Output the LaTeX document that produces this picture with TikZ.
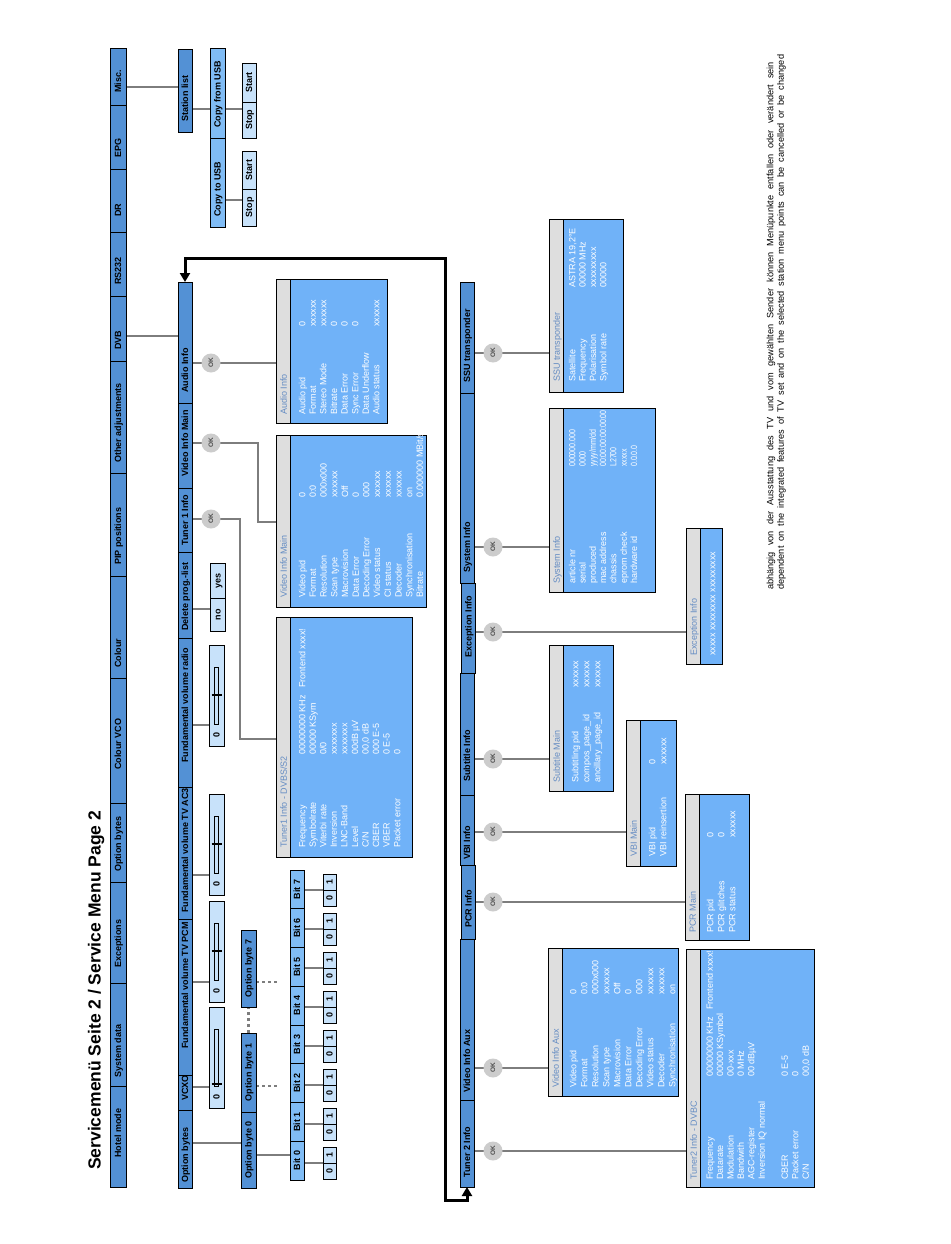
\documentclass[tikz,border=0pt]{standalone}
\usepackage{fontspec}
\setmainfont{Liberation Sans}
\usepackage{graphicx}
\usetikzlibrary{arrows.meta,backgrounds}
\definecolor{barblue}{RGB}{83,145,213}
\definecolor{midblue}{RGB}{128,188,245}
\definecolor{paleblue}{RGB}{200,226,250}
\definecolor{infoblue}{RGB}{112,178,248}
\definecolor{hdrgrey}{RGB}{222,222,222}
\definecolor{hdrtext}{RGB}{100,140,195}
\definecolor{conngrey}{RGB}{125,125,125}
\definecolor{okgrey}{RGB}{204,204,204}

\newcommand\cnd[1]{\scalebox{0.78}[1]{#1}}
\newcommand\bx[6]{%
  \pgfmathsetmacro\bxw{(#5)-(#3)}\pgfmathsetmacro\bxh{(#6)-(#4)}%
  \node[#1, minimum width=\bxw pt, minimum height=\bxh pt] (#2) at ({((#3)+(#5))/2},{((#4)+(#6))/2}) {};}
\newcommand\segL[8]{\bx{#1}{#2}{#3}{#4}{#5}{#6}%
  \node[segtxt, anchor=west] (#2-t) at ({((#3)+(#5))/2},#8) {#7};}
\newcommand\segC[7]{\bx{#1}{#2}{#3}{#4}{#5}{#6}%
  \node[segtxt] (#2-t) at (#2.center) {#7};}
\newcommand\infobox[7]{%
  \bx{info}{#1}{#2}{#3}{#4}{#5}%
  \bx{hdr}{#1-h}{#2}{#3}{(#2)+14}{#5}%
  \node[hdrtxt, anchor=west] (#1-ht) at ({(#2)+7.5},#7) {#6};}
\newcommand\inforows[4]{%
  \foreach [count=\i] \xx/\lbl/\vvl in {#4}{%
    \node[inftxt, anchor=west] (#1-l\i) at (\xx,#2) {\lbl};
    \node[inftxt, anchor=west] (#1-v\i) at (\xx,#3) {\vvl};}}
\newcommand\infline[4]{\node[inftxt, anchor=west] (#1) at (#2,#3) {#4};}
\newcommand\slider[3]{%
  \pgfmathsetmacro\slb{(#2)+101}%
  \bx{pale}{#1}{209}{#2}{224}{\slb}%
  \pgfmathsetmacro\slz{\slb-11}\pgfmathsetmacro\sltb{\slb-22}\pgfmathsetmacro\sltt{\slb-79}%
  \node[segtxt] (#1-t) at (216.5,\slz) {0};
  \draw[line width=0.9pt] (214.5,\sltt) rectangle (218.5,\sltb);
  \draw[line width=1.1pt] (211.5,#3) -- (221.5,#3);}

\tikzset{
 box/.style={draw=black, line width=0.9pt, inner sep=0pt, outer sep=0pt},
 seg/.style={box, fill=barblue},
 midb/.style={box, fill=midblue},
 pale/.style={box, fill=paleblue},
 info/.style={box, fill=infoblue},
 hdr/.style={box, fill=hdrgrey},
 segtxt/.style={rotate=90, inner sep=0pt, font=\bfseries\fontsize{9}{10}\selectfont, text height=6.4pt, text depth=0pt},
 inftxt/.style={rotate=90, inner sep=0pt, text=white, font=\fontsize{9}{10}\selectfont, text height=6.5pt, text depth=0pt},
 hdrtxt/.style={rotate=90, inner sep=0pt, text=hdrtext, font=\fontsize{9}{10}\selectfont, text height=6.5pt, text depth=0pt},
 notetxt/.style={rotate=90, inner sep=0pt, text=black, font=\fontsize{9.2}{10}\selectfont, text height=6.6pt, text depth=0pt},
 titletxt/.style={rotate=90, inner sep=0pt, font=\bfseries\fontsize{17.5}{20}\selectfont},
 okc/.style={circle, fill=okgrey, inner sep=0pt, minimum size=19pt, rotate=90, text=black!70, font=\bfseries\fontsize{6.5}{7}\selectfont},
 conn/.style={draw=conngrey, line width=2.6pt},
 dotline/.style={draw=conngrey, line width=2.6pt, dash pattern=on 2.6pt off 3.4pt},
 blk/.style={draw=black, line width=3pt},
}

\begin{document}
\begin{tikzpicture}[x=1pt,y=-1pt]
\useasboundingbox (0,0) rectangle (950,1244);

% title
\node[titletxt, anchor=base west] (title) at (100.5,1170) {Servicemenü Seite 2 / Service Menu Page 2};

% row 1
\segL{seg}{misc}{110}{48}{126}{105}{Misc.}{93}
\segL{seg}{epg}{110}{105}{126}{169}{EPG}{158}
\segL{seg}{dr}{110}{169}{126}{232}{DR}{217}
\segL{seg}{rs}{110}{232}{126}{296}{RS232}{285}
\segL{seg}{dvb}{110}{296}{126}{361}{DVB}{350}
\segL{seg}{oadj}{110}{361}{126}{473}{Other adjustments}{463}
\segL{seg}{pip}{110}{473}{126}{576}{PIP positions}{565}
\segL{seg}{colour}{110}{576}{126}{678}{Colour}{668}
\segL{seg}{cvco}{110}{678}{126}{803}{Colour VCO}{770}
\segL{seg}{obytes}{110}{803}{126}{882}{Option bytes}{872}
\segL{seg}{exc}{110}{882}{126}{983}{Exceptions}{968}
\segL{seg}{sysd}{110}{983}{126}{1086}{System data}{1078}
\segL{seg}{hotel}{110}{1086}{126}{1187}{Hotel mode}{1158}

% row 2
\segL{seg}{audio}{178}{282}{192}{403}{Audio Info}{393}
\segL{seg}{vim}{178}{403}{192}{488}{Video Info Main}{477}
\segL{seg}{tun1}{178}{488}{192}{552}{Tuner 1 Info}{546}
\segL{seg}{delp}{178}{552}{192}{638}{Delete prog.-list}{631}
\segL{seg}{fvr}{178}{638}{192}{787}{Fundamental volume radio}{763}
\segL{seg}{fvac}{178}{787}{192}{919}{Fundamental volume TV AC3}{913}
\segL{seg}{fvpcm}{178}{919}{192}{1075}{Fundamental volume TV PCM}{1049}
\segL{seg}{vcxo}{178}{1075}{192}{1110}{VCXO}{1101}
\segL{seg}{optb}{178}{1110}{192}{1188}{Option bytes}{1183}

% station list / USB
\segL{seg}{stl}{178}{49}{192}{132}{Station list}{122}
\segL{midb}{cfu}{210}{48}{225}{138}{Copy from USB}{128}
\segL{midb}{ctu}{210}{138}{225}{227}{Copy to USB}{217}
\segC{pale}{startA}{242}{63}{256}{102}{Start}
\segC{pale}{stopA}{242}{102}{256}{138}{Stop}
\segC{pale}{startB}{242}{151}{256}{189}{Start}
\segC{pale}{stopB}{242}{189}{256}{226}{Stop}

% delete prog list
\segC{pale}{yes}{210}{563}{225}{598}{yes}
\segC{pale}{no}{210}{598}{225}{631}{no}

% sliders
\slider{slr}{645}{695}
\slider{slac}{794}{844}
\slider{slpcm}{901}{951}
\slider{slvcxo}{1007}{1084}

% option bytes
\segC{seg}{ob0}{241}{1112}{256}{1188}{Option byte 0}
\segC{seg}{ob1}{241}{1033}{256}{1112}{Option byte 1}
\segC{seg}{ob7}{241}{930}{256}{1007}{Option byte 7}
\coordinate (d1) at (277,1086);
\coordinate (d7) at (277,982);

\foreach \k in {0,...,7}{
  \pgfmathsetmacro\bitb{1180-38.75*\k}
  \pgfmathsetmacro\bitt{\bitb-38.75}
  \segC{midb}{bit\k}{290}{\bitt}{304}{\bitb}{Bit \k}
  \pgfmathsetmacro\pbot{1179-39*\k}
  \pgfmathsetmacro\pmid{\pbot-16}
  \pgfmathsetmacro\ptop{\pbot-32}
  \segC{pale}{p\k-0}{323}{\pmid}{336}{\pbot}{0}
  \segC{pale}{p\k-1}{323}{\ptop}{336}{\pmid}{1}
}

% row 3
\segL{seg}{ssu}{460}{282}{474}{393}{SSU transponder}{383}
\segL{seg}{sysi}{460}{393}{474}{583}{System Info}{573}
\segL{seg}{subi}{460}{673}{474}{795}{Subtitle Info}{782}
\segL{seg}{vbii}{460}{795}{474}{865}{VBI Info}{860}
\segL{seg}{vaux}{460}{939}{474}{1100}{Video Info Aux}{1093}
\segL{seg}{tun2}{460}{1100}{474}{1187}{Tuner 2 Info}{1178}
\segL{seg}{exci}{461.5}{583}{475.5}{673}{Exception Info}{658}
\segL{seg}{pcri}{461.5}{865}{475.5}{939}{PCR Info}{928}

% OK circles
\node[okc] (okA) at (211,363) {OK};
\node[okc] (okV) at (211,443) {OK};
\node[okc] (okT) at (211,519) {OK};
\node[okc] (okS) at (493,353) {OK};
\node[okc] (okSI) at (493,547) {OK};
\node[okc] (okE) at (493,632) {OK};
\node[okc] (okSB) at (493,759) {OK};
\node[okc] (okVB) at (493,832) {OK};
\node[okc] (okP) at (493,902) {OK};
\node[okc] (okVA) at (493,1068) {OK};
\node[okc] (okT2) at (493,1151) {OK};
\coordinate (bV) at (258,443);
\coordinate (bT) at (240,519);

% info boxes
\infobox{aibox}{276}{279}{387}{423}{Audio Info}{415}
\inforows{ai}{415}{327}{302/Audio pid/0, 312.6/Format/xxxxxx, 323.2/Stereo Mode/xxxxxx, 333.8/Bitrate/0, 344.4/Data Error/0, 355/Sync Error/0, 376.2/Audio status/xxxxxx}
\infline{ai-du}{365.6}{415}{Data Underflow}

\infobox{vimbox}{276}{435}{426}{607}{Video Info Main}{598}
\inforows{vm}{598}{498}{302/Video pid/0, 312.7/Format/{0:0}, 323.4/Resolution/000x000, 334.1/Scan type/xxxxxx, 344.8/Macrovision/Off, 355.5/Data Error/0, 366.2/Decoding Error/000, 376.9/Video status/xxxxxx, 387.6/CI status/xxxxxx, 398.3/Decoder/xxxxxx, 409/Synchronisation/on, 419.7/Bitrate/{0.000000 MBit/s}}

\infobox{t1box}{276}{617}{412}{857}{Tuner1 Info - DVBS/S2}{848}
\inforows{t1}{848}{755}{302/Frequency/{00000000 KHz}, 312.6/Symbolrate/{00000 KSym}, 323.1/Viterbi rate/{0/0}, 333.7/Inversion/xxxxxxx, 344.2/LNC-Band/xxxxxxx, 354.8/Level/{00dB µV}, 365.3/{C/N}/{00,0 dB}, 375.9/CBER/{000 E-5}, 386.4/VBER/{0 E-5}, 397/Packet error/0}
\infline{t1-fe}{302}{688}{Frontend xxxx!}

\infobox{ssubox}{549}{219}{623}{392}{SSU transponder}{382}
\inforows{su}{382}{288}{572/Satellite/{ASTRA 19,2°E}, 582.4/Frequency/{00000 MHz}, 592.8/Polarisation/xxxxxxxxx, 603.2/Symbol rate/00000}

\infobox{sibox}{549}{408}{655}{592}{System Info}{584}
\inforows{si}{584}{467}{572/article nr/{\cnd{000000.000}}, 582.3/serial/{\cnd{0000}}, 592.6/produced/{\cnd{yyyy/mm/dd}}, 602.9/mac address/{\cnd{00:00:00:00:00:00}}, 613.2/chassis/{\cnd{L2700}}, 623.5/eprom check/{\cnd{xxxxx}}, 633.8/hardware id/{\cnd{0.0.0.0}}}

\infobox{eibox}{686}{528}{722}{664}{Exception Info}{656}
\infline{ei-l1}{712}{656}{xxxxx xxxxxxxx xxxxxxxxx}

\infobox{sbbox}{549}{645}{613}{791}{Subtitle Main}{783}
\inforows{sb}{783}{688}{575/Subtitling pid/xxxxxx, 586/compos\_page\_id/xxxxxx, 597/ancillary\_page\_id/xxxxxx}

\infobox{vbibox}{626}{720}{676}{866}{VBI Main}{857}
\inforows{vb}{857}{765}{652/VBI pid/0, 663/VBI reinsertion/xxxxxx}

\infobox{pcrbox}{685}{794}{749}{940}{PCR Main}{933}
\inforows{pc}{933}{838}{710/PCR pid/0, 721/PCR glitches/0, 732/PCR status/xxxxxx}

\infobox{vabox}{548}{948}{678}{1096}{Video Info Aux}{1088}
\inforows{va}{1088}{995}{573/Video pid/0, 584/Format/{0:0}, 595/Resolution/000x000, 606/Scan type/xxxxxx, 617/Macrovision/Off, 628/Data Error/0, 639/Decoding Error/000, 650/Video status/xxxxxx, 661/Decoder/xxxxxx, 672/Synchronisation/on}

\infobox{t2box}{686}{949}{814}{1187}{Tuner2 Info - DVBC}{1180}
\inforows{t2}{1180}{1077}{709.5/Frequency/{00000000 KHz}, 719.9/Datarate/{00000 KSymbol}, 730.3/Modulation/00-xxx, 740.7/Bandwith/{0 MHz}, 751.1/AGC-register/{00 dBµV}, 784.5/CBER/{0 E-5}, 795/Packet error/0, 805.5/{C/N}/{00,0 dB}}
\infline{t2-inv}{761.5}{1180}{Inversion IQ normal}
\infline{t2-fe}{709.5}{1010}{Frontend xxxx!}

% note
\node[notetxt, anchor=west] (note1) at (770,590) {\makebox[528pt][s]{abhängig von der Ausstattung des TV und vom gewählten Sender können Menüpunkte entfallen oder verändert sein}};
\node[notetxt, anchor=west] (note2) at (780.5,590) {\makebox[535pt][s]{dependent on the integrated features of TV set and on the selected station menu points can be cancelled or be changed}};

% black loop arrow
\coordinate (bl) at (445,1200);
\coordinate (tl) at (445,258);
\draw[blk, {Triangle[length=9pt,width=10pt]}-{Triangle[length=9pt,width=10pt]}] (tun2.south) |- (bl) -- (tl) -| (audio.north);

\begin{scope}[on background layer]
\fill[white] (0,0) rectangle (950,1244);
\draw[conn] (misc.east |- 0,87) -- (stl.west |- 0,87);
\draw[conn] (dvb.east |- 0,336) -- (audio.west |- 0,336);
\draw[conn] (stl.east |- 0,109) -- (cfu.west |- 0,109);
\draw[conn] (cfu.east |- 0,109) -- (stopA.west |- 0,109);
\draw[conn] (ctu.east |- 0,200) -- (stopB.west |- 0,200);
\draw[conn] (delp.east |- 0,609) -- (no.west |- 0,609);
\draw[conn] (fvr.east |- 0,725) -- (slr.west |- 0,725);
\draw[conn] (fvac.east |- 0,875) -- (slac.west |- 0,875);
\draw[conn] (fvpcm.east |- 0,982) -- (slpcm.west |- 0,982);
\draw[conn] (vcxo.east |- 0,1087) -- (slvcxo.west |- 0,1087);
\draw[conn] (optb.east |- 0,1143) -- (ob0.west |- 0,1143);
\draw[conn] (ob0.east |- 0,1155) -- (bit0.west |- 0,1155);
\draw[dotline] (ob1.north) -- (ob7.south);
\draw[dotline] (ob1.east |- d1) -- (d1);
\draw[dotline] (ob7.east |- d7) -- (d7);
\foreach \k in {0,...,7}{\draw[conn] (bit\k.east |- p\k-0.north) -- (p\k-0.north west);}
\draw[conn] (audio.east |- okA) -- (aibox.west |- okA);
\draw[conn] (vim.east |- okV) -- (bV) |- (vimbox.west |- 0,522);
\draw[conn] (tun1.east |- okT) -- (bT) |- (t1box.west |- 0,739);
\draw[conn] (ssu.east |- okS) -- (ssubox.west |- okS);
\draw[conn] (sysi.east |- okSI) -- (sibox.west |- okSI);
\draw[conn] (exci.east |- okE) -- (eibox.west |- okE);
\draw[conn] (subi.east |- okSB) -- (sbbox.west |- okSB);
\draw[conn] (vbii.east |- okVB) -- (vbibox.west |- okVB);
\draw[conn] (pcri.east |- okP) -- (pcrbox.west |- okP);
\draw[conn] (vaux.east |- okVA) -- (vabox.west |- okVA);
\draw[conn] (tun2.east |- okT2) -- (t2box.west |- okT2);
\end{scope}
\end{tikzpicture}
\end{document}
